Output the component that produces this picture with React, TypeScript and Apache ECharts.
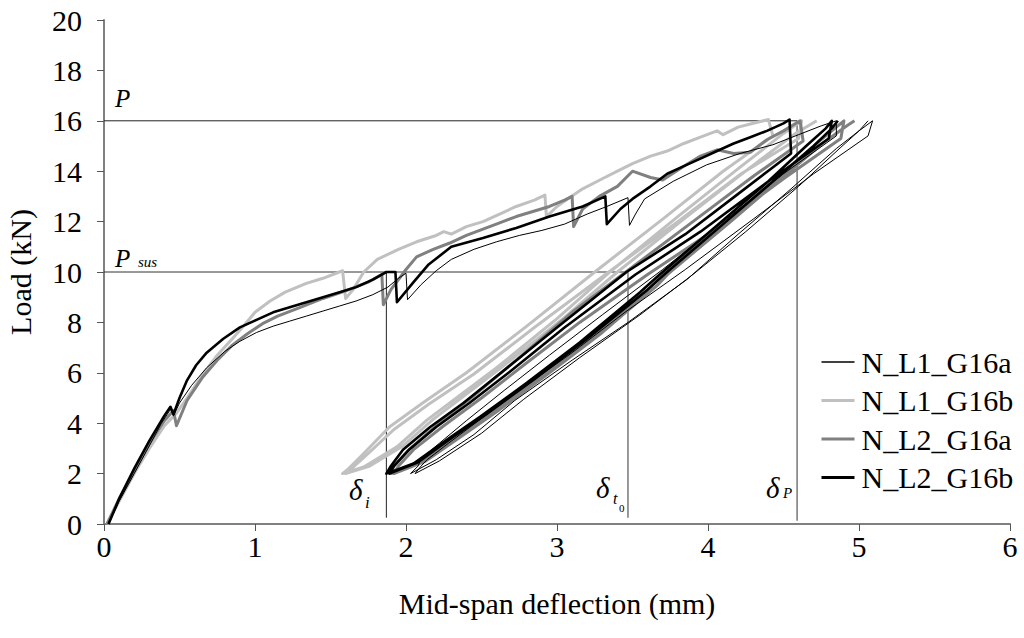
import React, { useEffect, useRef } from "react";
import * as echarts from "echarts";

type Pt = [number, number];

const xTicks = [0, 1, 2, 3, 4, 5, 6];
const yTicks = [0, 2, 4, 6, 8, 10, 12, 14, 16, 18, 20];

const seriesNames = ["N_L1_G16a", "N_L1_G16b", "N_L2_G16a", "N_L2_G16b"];

// N_L1_G16a (thin black)
const nL1G16a: Pt[] = [
  [0.03, 0], [0.1, 0.9], [0.2, 2.0], [0.3, 3.1], [0.38, 4.0], [0.44, 4.55], [0.46, 4.3], [0.5, 4.8],
  [0.58, 5.5], [0.68, 6.2], [0.8, 6.85], [0.9, 7.25], [1.01, 7.6], [1.12, 7.85], [1.23, 8.05], [1.34, 8.25],
  [1.45, 8.45], [1.56, 8.65], [1.67, 8.85], [1.78, 9.1], [1.88, 9.4], [1.95, 9.75], [2.0, 9.95], [2.01, 8.9],
  [2.1, 9.5], [2.2, 10.05], [2.3, 10.5], [2.45, 10.9], [2.6, 11.2], [2.75, 11.45], [2.9, 11.65], [3.05, 11.9],
  [3.2, 12.3], [3.33, 12.6], [3.47, 12.95], [3.48, 11.85], [3.52, 12.3], [3.58, 12.9], [3.77, 13.6], [3.99, 14.25],
  [4.21, 14.7], [4.43, 15.05], [4.6, 15.45], [4.75, 15.8], [4.85, 16.0],
  [4.85, 15.4], [4.5, 13.9], [4.1, 12.0], [3.7, 10.1], [3.3, 8.3], [2.95, 6.7], [2.65, 5.3], [2.4, 4.1],
  [2.22, 3.2], [2.1, 2.6], [2.08, 2.3], [2.03, 2.0],
  [2.2, 2.55], [2.45, 3.55], [2.72, 4.9], [3.1, 6.5], [3.47, 8.0], [3.86, 9.7], [4.2, 11.5], [4.55, 13.3],
  [4.85, 14.9], [5.0, 15.6], [5.09, 16.0],
  [5.06, 15.4], [4.7, 13.9], [4.3, 12.1], [3.85, 10.1], [3.45, 8.4], [3.1, 6.8], [2.75, 5.3], [2.48, 4.1],
  [2.28, 3.2], [2.14, 2.55], [2.1, 2.3], [2.06, 2.0],
  [2.22, 2.5], [2.5, 3.6], [2.78, 4.95], [3.15, 6.6], [3.55, 8.3], [3.9, 9.9], [4.25, 11.6], [4.6, 13.4],
  [4.88, 14.95], [5.0, 15.6], [5.06, 16.0],
];

// N_L1_G16b (light grey)
const nL1G16b: Pt[] = [
  [0.02, 0], [0.1, 0.9], [0.2, 2.0], [0.3, 3.0], [0.4, 3.9], [0.48, 4.4], [0.55, 5.0], [0.65, 5.9],
  [0.75, 6.7], [0.85, 7.35], [0.93, 7.9], [1.0, 8.4], [1.1, 8.85], [1.2, 9.2], [1.34, 9.55], [1.45, 9.75],
  [1.58, 10.05], [1.6, 8.95], [1.65, 9.3], [1.72, 10.0], [1.81, 10.5], [1.95, 10.9], [2.07, 11.2], [2.2, 11.45],
  [2.25, 11.6], [2.3, 11.5], [2.4, 11.8], [2.51, 12.0], [2.62, 12.3], [2.73, 12.6], [2.85, 12.85], [2.92, 13.05],
  [2.93, 12.2], [3.0, 12.6], [3.07, 12.9], [3.17, 13.3], [3.3, 13.7], [3.4, 14.0], [3.5, 14.3], [3.62, 14.6],
  [3.73, 14.8], [3.84, 15.1], [3.95, 15.35], [4.06, 15.6], [4.1, 15.45], [4.2, 15.75], [4.3, 15.9], [4.4, 16.05],
  [4.43, 15.4], [4.1, 14.0], [3.7, 12.1], [3.25, 10.0], [2.8, 7.85], [2.4, 6.0], [2.11, 4.8], [1.89, 3.85],
  [1.72, 2.8], [1.62, 2.2], [1.58, 2.0],
  [1.72, 2.26], [1.94, 3.06], [2.14, 4.13], [2.6, 6.2], [3.0, 8.15], [3.35, 10.0], [3.8, 12.2], [4.2, 14.1],
  [4.5, 15.5], [4.62, 16.0],
  [4.6, 15.3], [4.22, 13.9], [3.8, 12.0], [3.32, 9.9], [2.85, 7.8], [2.45, 5.95], [2.15, 4.75], [1.92, 3.75],
  [1.75, 2.8], [1.63, 2.15], [1.6, 2.0],
  [1.76, 2.3], [1.98, 3.1], [2.18, 4.15], [2.64, 6.25], [3.05, 8.2], [3.4, 10.0], [3.86, 12.2], [4.27, 14.1],
  [4.58, 15.5], [4.72, 16.0],
];

// N_L2_G16a (mid grey)
const nL2G16a: Pt[] = [
  [0.02, 0], [0.1, 1.0], [0.2, 2.1], [0.3, 3.2], [0.4, 4.1], [0.46, 4.5], [0.48, 3.9], [0.55, 4.9],
  [0.65, 5.8], [0.75, 6.5], [0.85, 7.1], [0.95, 7.55], [1.05, 7.95], [1.15, 8.25], [1.3, 8.6], [1.45, 8.95],
  [1.6, 9.25], [1.75, 9.6], [1.84, 9.9], [1.85, 8.7], [1.9, 9.3], [2.0, 10.1], [2.07, 10.6], [2.18, 10.9],
  [2.29, 11.15], [2.4, 11.45], [2.51, 11.7], [2.62, 11.95], [2.73, 12.2], [2.84, 12.4], [2.95, 12.6], [3.05, 12.85],
  [3.1, 13.0], [3.11, 11.8], [3.17, 12.5], [3.28, 13.0], [3.4, 13.4], [3.5, 14.0], [3.62, 13.75], [3.7, 13.65],
  [3.84, 14.2], [3.95, 14.6], [4.06, 14.85], [4.17, 14.7], [4.28, 14.75], [4.39, 15.25], [4.5, 15.6], [4.61, 16.0],
  [4.63, 15.2], [4.3, 13.8], [3.9, 12.0], [3.5, 10.2], [3.1, 8.4], [2.75, 6.6], [2.45, 5.1], [2.2, 3.9],
  [2.02, 2.95], [1.92, 2.3], [1.9, 2.0],
  [2.1, 2.5], [2.33, 3.45], [2.56, 4.4], [2.9, 5.9], [3.25, 7.5], [3.62, 9.4], [3.7, 9.9], [4.1, 11.9],
  [4.45, 13.7], [4.72, 15.1], [4.85, 15.75], [4.9, 16.0],
  [4.88, 15.3], [4.5, 13.7], [4.05, 11.7], [3.6, 9.9], [3.15, 8.0], [2.8, 6.4], [2.5, 5.0], [2.25, 3.9],
  [2.05, 2.95], [1.95, 2.3], [1.92, 2.0],
  [2.13, 2.5], [2.36, 3.45], [2.6, 4.45], [2.95, 6.0], [3.3, 7.6], [3.66, 9.45], [3.74, 9.95], [4.15, 12.0],
  [4.5, 13.8], [4.78, 15.2], [4.92, 15.8], [4.97, 16.0],
];

// N_L2_G16b (thick black)
const nL2G16b: Pt[] = [
  [0.03, 0], [0.1, 1.0], [0.2, 2.2], [0.3, 3.3], [0.4, 4.3], [0.44, 4.65], [0.46, 4.35], [0.5, 5.0],
  [0.55, 5.7], [0.61, 6.3], [0.68, 6.8], [0.79, 7.35], [0.9, 7.8], [1.01, 8.1], [1.12, 8.4], [1.23, 8.6],
  [1.34, 8.8], [1.45, 9.0], [1.56, 9.2], [1.67, 9.4], [1.78, 9.7], [1.87, 10.0], [1.93, 10.0], [1.94, 8.8],
  [2.05, 9.6], [2.15, 10.3], [2.3, 11.0], [2.51, 11.35], [2.73, 11.75], [2.95, 12.2], [3.17, 12.6], [3.32, 13.0],
  [3.33, 11.9], [3.42, 12.5], [3.5, 12.9], [3.62, 13.4], [3.73, 13.9], [3.84, 14.2], [3.95, 14.5], [4.06, 14.8],
  [4.17, 15.1], [4.28, 15.35], [4.39, 15.6], [4.5, 15.9], [4.54, 16.05], [4.55, 14.7],
  [4.2, 13.1], [3.85, 11.5], [3.46, 10.0], [3.0, 7.8], [2.65, 6.1], [2.38, 4.8], [2.16, 3.85], [1.98, 2.95],
  [1.9, 2.3], [1.87, 2.0],
  [2.05, 2.4], [2.27, 3.34], [2.49, 4.25], [2.8, 5.6], [3.15, 7.2], [3.55, 9.2], [3.68, 9.9], [4.05, 11.8],
  [4.4, 13.6], [4.65, 15.0], [4.78, 15.7], [4.82, 16.0],
  [4.8, 15.3], [4.4, 13.6], [3.95, 11.6], [3.52, 9.9], [3.05, 7.8], [2.7, 6.1], [2.42, 4.8], [2.2, 3.85],
  [2.02, 2.95], [1.92, 2.3], [1.89, 2.0],
  [2.08, 2.45], [2.3, 3.4], [2.53, 4.35], [2.85, 5.75], [3.2, 7.35], [3.6, 9.3], [3.72, 9.95], [4.1, 11.9],
  [4.45, 13.7], [4.7, 15.0], [4.82, 15.7], [4.86, 16.0],
];

// reference lines: P, P_sus, delta_i, delta_t0, delta_P
const loadP = 16;
const loadPsus = 10;
const deltaI = 1.87;
const deltaT0 = 3.47;
const deltaP = 4.59;
const refBottom = 0.25;

const FONT = "'Liberation Serif', 'Times New Roman', serif";
const FS = 30;

export default function App() {
  const ref = useRef<HTMLDivElement>(null);
  useEffect(() => {
    if (!ref.current) return;
    const chart = echarts.init(ref.current, undefined, { renderer: "svg" });
    const refLine = (data: Pt[], color: string, width: number) => ({
      type: "line",
      data,
      symbol: "none",
      silent: true,
      z: 1,
      lineStyle: { color, width },
    });
    const curve = (name: string, data: Pt[], color: string, width: number, z: number) => ({
      name,
      type: "line",
      data,
      symbol: "none",
      silent: true,
      z,
      itemStyle: { color },
      lineStyle: { color, width, join: "round" },
    });
    chart.setOption({
      animation: false,
      backgroundColor: "#ffffff",
      textStyle: { fontFamily: FONT },
      grid: { left: 104, right: 14, top: 20, bottom: 114, containLabel: false, outerBoundsMode: "none" },
      xAxis: {
        type: "value",
        min: xTicks[0],
        max: xTicks[xTicks.length - 1],
        interval: 1,
        name: "Mid-span deflection (mm)",
        nameLocation: "middle",
        nameGap: 64,
        nameTextStyle: { fontSize: FS, color: "#000", fontFamily: FONT },
        axisLine: { lineStyle: { color: "#808080", width: 2 } },
        axisTick: { show: true, inside: false, length: 7, lineStyle: { color: "#555", width: 1 } },
        axisLabel: { fontSize: FS, color: "#000", margin: 7, fontFamily: FONT },
        splitLine: { show: false },
      },
      yAxis: {
        type: "value",
        min: yTicks[0],
        max: yTicks[yTicks.length - 1],
        interval: 2,
        name: "Load (kN)",
        nameLocation: "middle",
        nameGap: 69,
        nameTextStyle: { fontSize: FS, color: "#000", fontFamily: FONT },
        axisLine: { show: true, lineStyle: { color: "#808080", width: 2 } },
        axisTick: { show: true, inside: false, length: 7, lineStyle: { color: "#555", width: 1 } },
        axisLabel: { fontSize: FS, color: "#000", margin: 22, fontFamily: FONT },
        splitLine: { show: false },
      },
      legend: {
        orient: "vertical",
        left: 820,
        top: 347,
        padding: 0,
        itemWidth: 33,
        itemHeight: 14,
        itemGap: 8.5,
        selectedMode: false,
        itemStyle: { opacity: 0 },
        textStyle: { fontSize: FS, color: "#000", fontFamily: FONT, padding: [0, 0, 0, 2] },
        data: [
          { name: seriesNames[0], itemStyle: { opacity: 0 }, lineStyle: { color: "#000", width: 1.3 } },
          { name: seriesNames[1], itemStyle: { opacity: 0 }, lineStyle: { color: "#c0c0c0", width: 3 } },
          { name: seriesNames[2], itemStyle: { opacity: 0 }, lineStyle: { color: "#808080", width: 3 } },
          { name: seriesNames[3], itemStyle: { opacity: 0 }, lineStyle: { color: "#000", width: 3 } },
        ],
      },
      series: [
        refLine([[0, loadP], [deltaP, loadP]], "#222", 1),
        refLine([[deltaP, loadP], [deltaP, refBottom * 0.5]], "#777", 1.5),
        refLine([[0, loadPsus], [deltaT0, loadPsus]], "#333", 1),
        refLine([[deltaT0, loadPsus], [deltaT0, refBottom]], "#777", 1.5),
        refLine([[deltaI, loadPsus], [deltaI, refBottom]], "#222", 1),
        curve(seriesNames[1], nL1G16b, "#c0c0c0", 3, 2),
        curve(seriesNames[2], nL2G16a, "#808080", 3, 3),
        curve(seriesNames[0], nL1G16a, "#000000", 1, 4),
        curve(seriesNames[3], nL2G16b, "#000000", 2.6, 5),
      ],
      graphic: [
        { type: "text", x: 115, y: 98, style: { text: "P", font: `italic 25px ${FONT}`, fill: "#000", verticalAlign: "middle" } },
        { type: "text", x: 115, y: 258, style: { text: "P", font: `italic 25px ${FONT}`, fill: "#000", verticalAlign: "middle" } },
        { type: "text", x: 138, y: 262, style: { text: "sus", font: `italic 15px ${FONT}`, fill: "#000", verticalAlign: "middle" } },
        { type: "text", x: 349, y: 490, style: { text: "δ", font: `italic 29px ${FONT}`, fill: "#000", verticalAlign: "middle" } },
        { type: "text", x: 365, y: 502, style: { text: "i", font: `italic 17px ${FONT}`, fill: "#000", verticalAlign: "middle" } },
        { type: "text", x: 596, y: 488, style: { text: "δ", font: `italic 29px ${FONT}`, fill: "#000", verticalAlign: "middle" } },
        { type: "text", x: 613, y: 498, style: { text: "t", font: `italic 16px ${FONT}`, fill: "#000", verticalAlign: "middle" } },
        { type: "text", x: 619, y: 508, style: { text: "0", font: `11px ${FONT}`, fill: "#000", verticalAlign: "middle" } },
        { type: "text", x: 766, y: 488, style: { text: "δ", font: `italic 29px ${FONT}`, fill: "#000", verticalAlign: "middle" } },
        { type: "text", x: 783, y: 493, style: { text: "P", font: `italic 15px ${FONT}`, fill: "#000", verticalAlign: "middle" } },
      ],
    });
    return () => chart.dispose();
  }, []);
  return (
    <div
      ref={ref}
      style={{ position: "fixed", left: 0, top: 0, width: 1024, height: 638, background: "#fff" }}
    />
  );
}
